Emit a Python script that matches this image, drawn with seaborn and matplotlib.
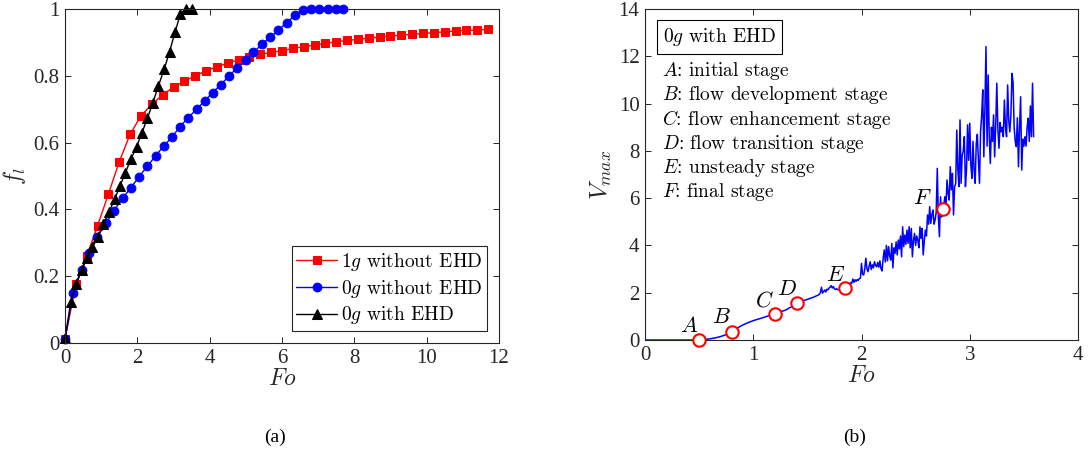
import matplotlib
matplotlib.use("Agg")
import matplotlib.pyplot as plt
import seaborn as sns
import numpy as np
import pandas as pd

# ---------------- data: panel (a) ----------------
fo_1g = [0.0, 0.3, 0.6, 0.9, 1.2, 1.5, 1.8, 2.1, 2.4, 2.7, 3.0, 3.3, 3.6, 3.9,
         4.2, 4.5, 4.8, 5.1, 5.4, 5.7, 6.0, 6.3, 6.6, 6.9, 7.2, 7.5, 7.8, 8.1,
         8.4, 8.7, 9.0, 9.3, 9.6, 9.9, 10.2, 10.5, 10.8, 11.1, 11.4, 11.7]
fl_1g = [0.012, 0.176, 0.26, 0.351, 0.446, 0.543, 0.625, 0.68, 0.715, 0.743,
         0.766, 0.784, 0.80, 0.815, 0.827, 0.838, 0.848, 0.857, 0.864, 0.870,
         0.875, 0.882, 0.887, 0.892, 0.897, 0.902, 0.906, 0.909, 0.913, 0.916,
         0.919, 0.922, 0.924, 0.927, 0.929, 0.932, 0.934, 0.936, 0.937, 0.939]

fo_0g = [0.0, 0.23, 0.46, 0.67, 0.89, 1.13, 1.35, 1.59, 1.82, 2.05, 2.28, 2.51,
         2.74, 2.97, 3.18, 3.41, 3.64, 3.87, 4.08, 4.31, 4.54, 4.76, 5.0, 5.21,
         5.44, 5.67, 5.90, 6.13, 6.36, 6.59, 6.80, 7.03, 7.26, 7.49, 7.69]
fl_0g = [0.012, 0.149, 0.219, 0.268, 0.318, 0.358, 0.396, 0.433, 0.465, 0.498,
         0.530, 0.561, 0.591, 0.618, 0.648, 0.675, 0.700, 0.726, 0.750, 0.774,
         0.800, 0.824, 0.847, 0.870, 0.894, 0.915, 0.937, 0.959, 0.982, 0.997,
         1.0, 1.0, 1.0, 1.0, 1.0]

fo_ehd = [0.0, 0.16, 0.30, 0.46, 0.61, 0.76, 0.91, 1.06, 1.22, 1.37, 1.52, 1.67,
          1.82, 1.98, 2.13, 2.28, 2.43, 2.58, 2.74, 2.89, 3.04, 3.19, 3.34, 3.50]
fl_ehd = [0.014, 0.124, 0.177, 0.219, 0.254, 0.287, 0.318, 0.355, 0.393, 0.430,
          0.470, 0.510, 0.550, 0.588, 0.630, 0.673, 0.720, 0.769, 0.819, 0.872,
          0.930, 0.985, 1.0, 1.0]

labels_a = ["$1g$ without EHD", "$0g$ without EHD", "$0g$ with EHD"]

# ---------------- data: panel (b) ----------------
fo_v = [0.0, 0.1, 0.2, 0.3, 0.4, 0.45, 0.5, 0.55, 0.6, 0.65, 0.7, 0.75, 0.8,
        0.85, 0.9, 0.95, 1.0, 1.05, 1.1, 1.15, 1.2, 1.25, 1.3, 1.35, 1.4, 1.45,
        1.5, 1.55,
        1.60, 1.61, 1.62, 1.63, 1.64, 1.65, 1.66, 1.67, 1.68, 1.69,
        1.70, 1.71, 1.72, 1.73, 1.74, 1.75, 1.76, 1.77, 1.78, 1.79,
        1.80, 1.81, 1.82, 1.83, 1.84, 1.85, 1.86, 1.87, 1.88, 1.89,
        1.90, 1.91, 1.92, 1.93, 1.94, 1.95, 1.96, 1.97, 1.98, 1.99,
        2.00, 2.01, 2.02, 2.03, 2.04, 2.05, 2.06, 2.07, 2.08, 2.09,
        2.10, 2.11, 2.12, 2.13, 2.14, 2.15, 2.16, 2.17, 2.18, 2.19,
        2.20, 2.21, 2.22, 2.23, 2.24, 2.25, 2.26, 2.27, 2.28, 2.29,
        2.30, 2.31, 2.32, 2.33, 2.34, 2.35, 2.36, 2.37, 2.38, 2.39,
        2.40, 2.41, 2.42, 2.43, 2.44, 2.45, 2.46, 2.47, 2.48, 2.49,
        2.50, 2.51, 2.52, 2.53, 2.54, 2.55, 2.56, 2.57, 2.58, 2.59,
        2.60, 2.61, 2.62, 2.63, 2.64, 2.65, 2.66, 2.67, 2.68, 2.69,
        2.70, 2.71, 2.72, 2.73, 2.74, 2.75, 2.76, 2.77, 2.78, 2.79,
        2.80, 2.81, 2.82, 2.83, 2.84, 2.85, 2.86, 2.87, 2.88, 2.89,
        2.90, 2.91, 2.92, 2.93, 2.94, 2.95, 2.96, 2.97, 2.98, 2.99,
        3.00, 3.01, 3.02, 3.03, 3.04, 3.05, 3.06, 3.07, 3.08, 3.09,
        3.10, 3.11, 3.12, 3.13, 3.14, 3.15, 3.16, 3.17, 3.18, 3.19,
        3.20, 3.21, 3.22, 3.23, 3.24, 3.25, 3.26, 3.27, 3.28, 3.29,
        3.30, 3.31, 3.32, 3.33, 3.34, 3.35, 3.36, 3.37, 3.38, 3.39,
        3.40, 3.41, 3.42, 3.43, 3.44, 3.45, 3.46, 3.47, 3.48, 3.49,
        3.50, 3.51, 3.52, 3.53, 3.54, 3.55, 3.56, 3.57, 3.58, 3.59]
v_max = [0.0, 0.0, 0.0, 0.0, 0.0, 0.0, 0.01, 0.02, 0.05, 0.09, 0.15, 0.23, 0.34,
         0.50, 0.63, 0.73, 0.82, 0.89, 0.96, 1.04, 1.12, 1.19, 1.27, 1.40, 1.55,
         1.64, 1.72, 1.80,
         1.90, 1.93, 2.00, 2.23, 1.98, 2.05, 2.12, 2.03, 2.15, 2.12,
         2.20, 2.24, 2.30, 2.20, 2.26, 2.16, 2.14, 2.17, 2.13, 2.12,
         2.14, 2.15, 2.16, 2.17, 2.18, 2.20, 2.24, 2.30, 2.33, 2.37,
         2.42, 2.40, 2.58, 2.44, 2.55, 2.48, 2.56, 2.52, 2.60, 2.62,
         3.24, 2.78, 2.75, 3.00, 3.46, 3.02, 2.89, 3.12, 3.31, 2.98,
         3.18, 3.05, 3.31, 3.15, 3.10, 3.28, 3.08, 3.35, 3.02, 2.92,
         3.45, 3.81, 3.30, 4.00, 3.35, 3.95, 3.55, 3.38, 4.09, 3.05,
         3.90, 3.67, 4.15, 3.60, 4.23, 3.85, 4.40, 3.52, 4.79, 3.95,
         4.44, 4.05, 4.65, 4.09, 4.79, 3.90, 4.72, 3.52, 4.20, 4.51,
         4.00, 4.40, 4.23, 3.90, 4.79, 4.30, 4.72, 3.60, 4.20, 4.65,
         4.40, 5.29, 4.90, 5.64, 4.93, 5.30, 5.50, 4.90, 5.08, 5.40,
         7.26, 5.20, 4.37, 6.06, 5.20, 5.50, 5.70, 6.06, 5.60, 6.77,
         6.20, 5.92, 7.33, 6.35, 7.05, 5.29, 6.49, 6.60, 8.88, 7.20,
         6.49, 9.31, 6.63, 7.80, 8.00, 8.60, 6.49, 7.20, 9.10, 7.60,
         9.17, 7.40, 6.84, 8.40, 7.20, 6.63, 8.30, 8.70, 7.60, 6.63,
         8.81, 9.50, 10.58, 7.75, 9.80, 12.41, 8.20, 11.21, 8.60, 7.47,
         9.00, 8.40, 9.52, 7.75, 9.10, 10.86, 8.90, 8.11, 9.20, 8.80,
         9.00, 8.60, 10.15, 9.00, 8.60, 10.79, 9.30, 8.80, 9.50, 11.28,
         10.90, 9.00, 8.40, 8.18, 9.40, 7.33, 9.00, 10.29, 7.19, 8.50,
         8.20, 8.60, 8.20, 9.00, 9.38, 8.40, 9.90, 8.60, 10.86, 8.60]

stage_names = ["A", "B", "C", "D", "E", "F"]
stage_fo = [0.50, 0.80, 1.20, 1.40, 1.85, 2.75]
stage_v = [0.00, 0.33, 1.10, 1.55, 2.19, 5.53]
stage_text = ["initial stage", "flow development stage",
              "flow enhancement stage", "flow transition stage",
              "unsteady stage", "final stage"]

# ---------------- style ----------------
sns.set_theme(style="ticks")
plt.rcParams["font.family"] = ["Liberation Serif", "DejaVu Serif"]
plt.rcParams["mathtext.fontset"] = "cm"
plt.rcParams["axes.edgecolor"] = "#262626"
plt.rcParams["xtick.color"] = "#262626"
plt.rcParams["ytick.color"] = "#262626"
plt.rcParams["text.color"] = "#262626"
plt.rcParams["axes.labelcolor"] = "#262626"

CM = ["cmr10", "DejaVu Serif"]

fig = plt.figure(figsize=(10.89, 4.58), dpi=100)
ax1 = fig.add_axes([0.0597, 0.2511, 0.3985, 0.7292])
ax2 = fig.add_axes([0.5923, 0.2576, 0.3976, 0.7227])

# ---------------- panel (a) ----------------
sns.lineplot(x=fo_1g, y=fl_1g, ax=ax1, color="red", marker="s", markersize=5.2,
             markeredgecolor="red", linewidth=1.0, sort=False, estimator=None,
             label=labels_a[0])
sns.lineplot(x=fo_0g, y=fl_0g, ax=ax1, color="blue", marker="o", markersize=6.3,
             markeredgecolor="blue", linewidth=1.0, sort=False, estimator=None,
             label=labels_a[1])
sns.lineplot(x=fo_ehd, y=fl_ehd, ax=ax1, color="black", marker="^", markersize=6.6,
             markeredgecolor="black", linewidth=1.0, sort=False, estimator=None,
             label=labels_a[2])
for ln in ax1.lines:
    ln.set_clip_on(False)

ax1.set_xlim(0, 12)
ax1.set_ylim(0, 1)
ax1.set_xticks([0, 2, 4, 6, 8, 10, 12])
ax1.set_yticks([0, 0.2, 0.4, 0.6, 0.8, 1])
ax1.set_yticklabels(["0", "0.2", "0.4", "0.6", "0.8", "1"])
ax1.set_xlabel("$Fo$", fontsize=17, labelpad=1)
ax1.set_ylabel("$f_l$", fontsize=17, labelpad=4)
leg = ax1.legend(loc="lower right", frameon=True, fancybox=False,
                 prop={"family": CM, "size": 14},
                 framealpha=1, edgecolor="#262626", handlelength=2.1,
                 handletextpad=0.2, borderpad=0.25, labelspacing=0.25,
                 borderaxespad=0.6)
leg.get_frame().set_linewidth(0.8)
for t in leg.get_texts():
    t.set_color("black")

# ---------------- panel (b) ----------------
sns.lineplot(x=fo_v, y=v_max, ax=ax2, color="blue", linewidth=1.1,
             sort=False, estimator=None)
sns.scatterplot(x=stage_fo, y=stage_v, ax=ax2, s=80, facecolor="white",
                edgecolor="red", linewidth=1.5, zorder=5, clip_on=False)
label_off = [(-0.09, 0.56), (-0.09, 0.56), (-0.095, 0.52), (-0.09, 0.54),
             (-0.09, 0.49), (-0.19, 0.43)]
for name, fx, vy, (dx, dy) in zip(stage_names, stage_fo, stage_v, label_off):
    ax2.text(fx + dx, vy + dy, f"${name}$", fontsize=16, ha="center",
             va="center", color="black")

ax2.set_xlim(0, 4)
ax2.set_ylim(0, 14)
ax2.set_xticks([0, 1, 2, 3, 4])
ax2.set_yticks([0, 2, 4, 6, 8, 10, 12, 14])
ax2.set_xlabel("$Fo$", fontsize=17, labelpad=1)
ax2.set_ylabel("$V_{max}$", fontsize=18, labelpad=3)

ax2.text(0.041, 0.915, "$0g$ with EHD", transform=ax2.transAxes,
         fontsize=14, family=CM,
         ha="left", va="center", color="black",
         bbox=dict(boxstyle="square,pad=0.3", fc="white", ec="black", lw=0.8))
line_y = [0.813, 0.739, 0.666, 0.593, 0.520, 0.447]
for name, txt, yy in zip(stage_names, stage_text, line_y):
    ax2.text(0.039, yy, f"${name}$: {txt}", transform=ax2.transAxes,
             fontsize=14, family=CM, ha="left", va="center", color="black")

for ax in (ax1, ax2):
    for sp in ax.spines.values():
        sp.set_visible(True)
        sp.set_linewidth(0.8)
        sp.set_color("#262626")
    ax.tick_params(direction="in", top=True, right=True, length=4, width=0.7,
                   labelsize=15, pad=4)

fig.text(0.2525, 0.045, "(a)", fontsize=14, ha="center", va="center",
         color="black")
fig.text(0.785, 0.045, "(b)", fontsize=14, ha="center", va="center",
         color="black")

fig.savefig("out.png", dpi=100, facecolor="white")
